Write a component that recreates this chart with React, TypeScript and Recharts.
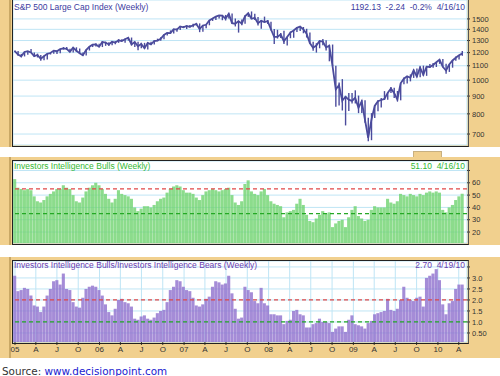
import React from 'react';
import { ComposedChart, Bar, Line, XAxis, YAxis, CartesianGrid, ReferenceLine } from 'recharts';

const TAN = '#f1d08e';
const GRID = '#bfe5f5';

// quarter starts, in days since 1 Jan 2005
const quarterDays = [0, 90, 181, 273, 365, 455, 546, 638, 730, 820, 911, 1003, 1095, 1186, 1277, 1369, 1461, 1551, 1642, 1734, 1826, 1916];
const quarterLabels = ['05', 'A', 'J', 'O', '06', 'A', 'J', 'O', '07', 'A', 'J', 'O', '08', 'A', 'J', 'O', '09', 'A', 'J', 'O', '10', 'A'];

// biweekly samples ending 4/16/10
const spxClose = [
  1212, 1185, 1171, 1205, 1211, 1201, 1172, 1181, 1152, 1172, 1190, 1197, 1216, 1211, 1228, 1234, 1230, 1206, 1241, 1215, 1195, 1179, 1220, 1248, 1265, 1267, 1248,
  1287, 1283, 1267, 1289, 1282, 1302, 1295, 1311, 1325, 1267, 1288, 1252, 1270, 1236, 1279, 1267, 1296, 1299, 1314, 1349, 1368, 1365, 1401, 1397, 1427, 1418,
  1431, 1423, 1438, 1451, 1402, 1436, 1443, 1484, 1505, 1523, 1536, 1533, 1503, 1552, 1459, 1453, 1479, 1454, 1526, 1557, 1501, 1510, 1458, 1481, 1468, 1478,
  1401, 1331, 1331, 1353, 1294, 1330, 1370, 1390, 1414, 1426, 1400, 1360, 1278, 1240, 1257, 1296, 1292, 1242, 1255, 1099, 940, 968, 873, 896, 879, 872,
  890, 832, 869, 770, 683, 769, 843, 870, 877, 883, 919, 946, 918, 880, 979, 1010, 1026, 1016, 1068, 1025, 1087, 1036, 1093, 1091, 1106, 1126,
  1145, 1092, 1066, 1109, 1139, 1160, 1179, 1192,
];
const spxHigh = [
  1217, 1212, 1190, 1208, 1212, 1229, 1200, 1192, 1182, 1178, 1192, 1205, 1219, 1217, 1230, 1245, 1245, 1232, 1244, 1243, 1233, 1200, 1224, 1250, 1269, 1276, 1272,
  1294, 1290, 1285, 1294, 1295, 1311, 1310, 1318, 1326, 1326, 1290, 1290, 1280, 1280, 1280, 1290, 1303, 1316, 1328, 1352, 1372, 1390, 1403, 1407, 1431, 1431,
  1435, 1441, 1453, 1461, 1456, 1438, 1445, 1485, 1510, 1524, 1540, 1540, 1540, 1555, 1555, 1504, 1479, 1495, 1538, 1561, 1576, 1552, 1520, 1488, 1523, 1490,
  1471, 1402, 1396, 1367, 1388, 1334, 1380, 1395, 1422, 1426, 1422, 1405, 1371, 1290, 1277, 1298, 1313, 1303, 1265, 1266, 1100, 985, 1007, 900, 919, 918,
  935, 903, 877, 875, 780, 804, 845, 875, 888, 930, 920, 956, 951, 931, 980, 1018, 1027, 1039, 1074, 1080, 1096, 1101, 1097, 1113, 1120, 1128,
  1146, 1150, 1115, 1112, 1140, 1170, 1181, 1213,
];
const spxLow = [
  1205, 1176, 1163, 1170, 1184, 1198, 1168, 1162, 1137, 1140, 1146, 1185, 1192, 1190, 1194, 1225, 1220, 1205, 1201, 1205, 1190, 1175, 1177, 1217, 1245, 1250, 1247,
  1245, 1255, 1253, 1260, 1268, 1280, 1291, 1280, 1300, 1258, 1245, 1219, 1235, 1232, 1224, 1262, 1266, 1294, 1297, 1312, 1345, 1360, 1363, 1377, 1394, 1413,
  1403, 1416, 1420, 1437, 1374, 1377, 1411, 1438, 1480, 1490, 1505, 1487, 1484, 1504, 1455, 1427, 1370, 1439, 1452, 1520, 1500, 1490, 1435, 1406, 1465, 1450,
  1390, 1270, 1317, 1321, 1270, 1257, 1320, 1324, 1376, 1384, 1364, 1326, 1272, 1215, 1200, 1235, 1261, 1217, 1133, 1097, 839, 845, 818, 741, 815, 857,
  857, 804, 805, 754, 667, 672, 779, 814, 835, 878, 879, 919, 888, 869, 875, 974, 978, 992, 1015, 1020, 1019, 1029, 1029, 1084, 1085, 1091,
  1114, 1090, 1044, 1056, 1086, 1137, 1147, 1175,
];
const bulls = [
  63, 56, 55, 54, 55, 54, 49, 45, 44, 46, 49, 51, 53, 55, 55, 58, 56, 55, 50, 45, 44, 48, 53, 56, 58, 60, 58,
  55, 51, 47, 44, 47, 54, 51, 50, 49, 47, 40, 37, 39, 41, 41, 40, 42, 45, 47, 48, 52, 55, 57, 58, 57, 54,
  52, 52, 51, 48, 46, 50, 53, 54, 55, 54, 53, 54, 55, 56, 50, 44, 42, 45, 59, 62, 53, 51, 50, 53, 55, 50,
  45, 43, 42, 41, 32, 36, 37, 38, 43, 47, 42, 34, 29, 28, 31, 34, 37, 35, 36, 24, 27, 29, 30, 24, 32, 38,
  41, 33, 31, 29, 30, 38, 41, 40, 40, 40, 47, 44, 43, 45, 51, 50, 49, 51, 50, 49, 51, 50, 52, 53, 52, 53,
  52, 38, 36, 40, 42, 46, 49, 51.1,
];
const ratio = [
  3.1, 2.4, 2.45, 2.55, 2.5, 2.2, 1.75, 1.7, 1.45, 1.7, 2.2, 2.5, 2.85, 2.9, 2.7, 3.2, 2.5, 2.45, 1.9, 1.7, 1.65, 2.1, 2.5, 2.6, 2.65, 2.6, 2.45,
  2.2, 1.8, 1.45, 1.3, 1.6, 2.0, 2.05, 1.9, 1.85, 1.7, 1.15, 1.1, 1.25, 1.3, 1.15, 1.1, 1.2, 1.4, 1.5, 1.55, 1.9, 2.45, 2.6, 2.9, 2.85, 2.6,
  2.45, 2.4, 2.1, 1.75, 1.7, 1.8, 2.05, 2.15, 2.6, 2.85, 2.8, 2.7, 2.75, 3.1, 2.3, 1.6, 1.15, 1.2, 2.6, 2.45, 2.35, 1.95, 1.85, 2.55, 1.85, 1.75,
  1.35, 1.35, 1.3, 1.3, 0.9, 1.05, 1.1, 1.5, 1.55, 1.35, 1.3, 0.75, 0.75, 0.9, 0.95, 1.15, 1.0, 1.0, 0.95, 0.55, 0.7, 0.8, 0.8, 0.55, 1.1, 1.3,
  0.9, 0.85, 0.8, 0.7, 0.95, 1.05, 1.35, 1.4, 1.45, 1.5, 2.05, 1.55, 1.5, 1.6, 2.0, 2.6, 2.1, 2.0, 1.95, 2.1, 2.15, 1.7, 3.0, 3.1, 3.2, 3.4,
  2.9, 1.8, 1.35, 1.85, 1.95, 2.5, 2.7, 2.7,
];

const spxTicks = [700, 800, 900, 1000, 1100, 1200, 1300, 1400, 1500];
const bullTicks = [20, 30, 40, 50, 60, 70];
const bullTickLabels = ['20', '30', '40', '50', '60', ''];
const ratioTicks = [0.5, 1, 1.5, 2, 2.5, 3, 3.5];
const ratioTickLabels = ['0.50', '1.0', '1.5', '2.0', '2.5', '3.0', ''];

const data = spxClose.map((c, i) => ({
  day: -1 + 14 * i,
  close: c,
  range: [spxLow[i], spxHigh[i]],
  bulls: bulls[i],
  ratio: ratio[i],
}));

const X_DOMAIN: [number, number] = [-8.6, 1951.6];
const FONT = '"Liberation Sans", Arial, sans-serif';
const tickStyle = { fontSize: 7.5, fill: '#333', fontFamily: FONT };

function Frame({ top, height }: { top: number; height: number }) {
  return (
    <>
      <div style={{ position: 'absolute', left: 0, top, width: 500, height, background: TAN }} />
      <div style={{ position: 'absolute', left: 9, top, width: 2, height, background: '#c9a866' }} />
    </>
  );
}

function Border({ plotTop, plotBottom }: { plotTop: number; plotBottom: number }) {
  return (
    <div
      style={{
        position: 'absolute',
        left: 12,
        top: plotTop - 1,
        width: 455,
        height: plotBottom - plotTop + 1,
        borderLeft: '1px solid #222',
        borderTop: '1px solid #222',
        borderBottom: '1px solid #222',
        borderRight: '1px solid #555',
        pointerEvents: 'none',
      }}
    />
  );
}

function Label({ left, right, top, color, text }: { left?: number; right?: number; top: number; color: string; text: string }) {
  return (
    <div
      style={{
        position: 'absolute',
        left,
        right,
        top,
        color,
        fontFamily: FONT,
        fontSize: 8.5,
        lineHeight: '10px',
        whiteSpace: 'pre',
      }}
    >
      {text}
    </div>
  );
}

export default function App() {
  const hiddenX = (
    <XAxis
      type="number"
      dataKey="day"
      domain={X_DOMAIN}
      ticks={quarterDays}
      interval={0}
      allowDataOverflow
      height={0}
      tick={false}
      axisLine={false}
      tickLine={false}
    />
  );
  return (
    <div style={{ position: 'absolute', left: 0, top: 0, width: 500, height: 376, background: '#fff', overflow: 'hidden' }}>
      {/* Panel 1: S&P 500 */}
      <Frame top={0} height={147} />
      <div style={{ position: 'absolute', left: 0, top: 0 }}>
        <ComposedChart width={500} height={147} data={data} margin={{ top: 0, right: 0, bottom: 2, left: 13 }}>
          <CartesianGrid stroke={GRID} fill="#fff" strokeWidth={1} />
          {hiddenX}
          <YAxis
            orientation="right"
            width={33}
            scale="log"
            domain={[651, 1700]}
            allowDataOverflow
            ticks={spxTicks}
            interval={0}
            axisLine={false}
            tickSize={3}
            tickMargin={2}
            tick={tickStyle}
            tickLine={{ stroke: '#333' }}
          />
          <Bar dataKey="range" barSize={1.4} fill="#4b4b9c" isAnimationActive={false} />
          <Line dataKey="close" stroke="#4b4b9c" strokeWidth={1.8} dot={false} isAnimationActive={false} />
        </ComposedChart>
      </div>
      <Border plotTop={0} plotBottom={145} />
      <Label left={14} top={1.5} color="#3b3ba0" text="S&P 500 Large Cap Index (Weekly)" />
      <Label right={35} top={1.5} color="#3b3ba0" text="1192.13  -2.24  -0.2%  4/16/10" />

      {/* small tab between panels */}
      <div style={{ position: 'absolute', left: 413, top: 151, width: 27, height: 8, background: TAN, border: '1px solid #c8b080' }} />

      {/* Panel 2: Bulls */}
      <Frame top={157} height={88} />
      <div style={{ position: 'absolute', left: 0, top: 157 }}>
        <ComposedChart width={500} height={88} data={data} margin={{ top: 4, right: 0, bottom: 2, left: 13 }}>
          <CartesianGrid stroke={GRID} fill="#fff" strokeWidth={1} />
          {hiddenX}
          <YAxis
            orientation="right"
            width={33}
            domain={[11.1, 77.7]}
            allowDataOverflow
            ticks={bullTicks}
            interval={0}
            tickFormatter={(v: number) => bullTickLabels[bullTicks.indexOf(v)]}
            axisLine={false}
            tickSize={3}
            tickMargin={2}
            tick={tickStyle}
            tickLine={{ stroke: '#333' }}
          />
          <Bar dataKey="bulls" barSize={3.1} fill="#6fd36f" fillOpacity={0.8} isAnimationActive={false} />
          <ReferenceLine y={55} stroke="#e04848" strokeDasharray="4 3" strokeWidth={1.2} />
          <ReferenceLine y={35} stroke="#25a825" strokeDasharray="4 3" strokeWidth={1.2} />
        </ComposedChart>
      </div>
      <Border plotTop={161} plotBottom={243} />
      <Label left={14} top={161.3} color="#33b833" text="Investors Intelligence Bulls (Weekly)" />
      <Label right={35} top={161.3} color="#33b833" text="51.10  4/16/10" />

      {/* Panel 3: Bulls/Bears ratio */}
      <Frame top={257} height={101} />
      <div style={{ position: 'absolute', left: 0, top: 257 }}>
        <ComposedChart width={500} height={101} data={data} margin={{ top: 4, right: 0, bottom: 1, left: 13 }}>
          <CartesianGrid stroke={GRID} fill="#fff" strokeWidth={1} />
          <XAxis
            type="number"
            dataKey="day"
            domain={X_DOMAIN}
            ticks={quarterDays}
            interval={0}
            allowDataOverflow
            height={15}
            axisLine={false}
            tickSize={3}
            tickMargin={1}
            tick={{ fontSize: 8, fill: '#333', fontFamily: FONT }}
            tickLine={{ stroke: '#333' }}
            tickFormatter={(v: number) => quarterLabels[quarterDays.indexOf(v)]}
          />
          <YAxis
            orientation="right"
            width={33}
            domain={[0.09, 3.77]}
            allowDataOverflow
            ticks={ratioTicks}
            interval={0}
            tickFormatter={(v: number) => ratioTickLabels[ratioTicks.indexOf(v)]}
            axisLine={false}
            tickSize={3}
            tickMargin={2}
            tick={tickStyle}
            tickLine={{ stroke: '#333' }}
          />
          <Bar dataKey="ratio" barSize={3.1} fill="#8e6fcd" fillOpacity={0.8} isAnimationActive={false} />
          <ReferenceLine y={2} stroke="#e04848" strokeDasharray="4 3" strokeWidth={1.2} />
          <ReferenceLine y={1} stroke="#25a825" strokeDasharray="4 3" strokeWidth={1.2} />
        </ComposedChart>
      </div>
      <Border plotTop={261} plotBottom={342} />
      <Label left={14} top={260.3} color="#6a3db0" text="Investors Intelligence Bulls/Investors Intelligence Bears (Weekly)" />
      <Label right={35} top={260.3} color="#6a3db0" text="2.70  4/19/10" />

      {/* Source */}
      <div
        style={{
          position: 'absolute',
          left: 2,
          top: 365,
          fontFamily: '"DejaVu Sans", Verdana, sans-serif',
          fontSize: 10.4,
          lineHeight: '12px',
          color: '#333',
          whiteSpace: 'pre',
        }}
      >
        {'Source: '}
        <span style={{ color: '#1a1ad0', textDecoration: 'underline' }}>www.decisionpoint.com</span>
      </div>
    </div>
  );
}
